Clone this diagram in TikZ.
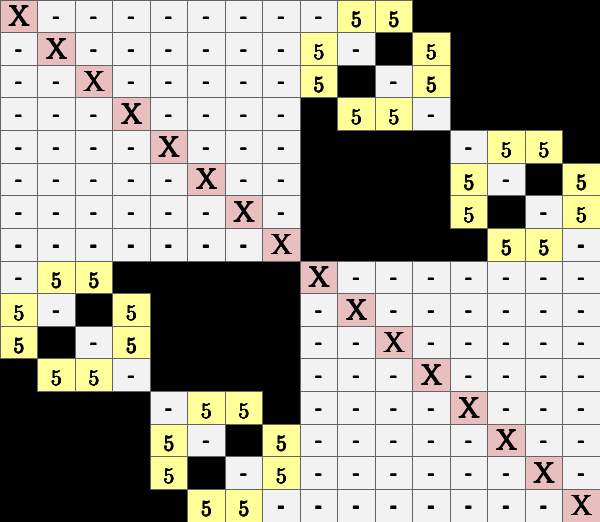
\documentclass[tikz,border=0pt]{standalone}
\usepackage{fontspec}
\definecolor{cellgray}{RGB}{242,242,242}
\definecolor{cellpink}{RGB}{232,190,190}
\definecolor{cellyel}{RGB}{255,255,153}
\definecolor{cellline}{RGB}{100,100,100}
% poor man's bold: 3x3 overprinted copies, #1 horizontal step, #2 vertical step
\newcommand\fbrow[2]{\rlap{#2}\rlap{\hspace{#1}#2}\rlap{\hspace{#1}\hspace{#1}#2}}
\newcommand\fb[3]{\leavevmode
  \fbrow{#1}{#3}%
  \fbrow{#1}{\raisebox{#2}{#3}}%
  \fbrow{#1}{\raisebox{#2}{\raisebox{#2}{#3}}}%
  \hphantom{#3}\hspace{#1}\hspace{#1}}
\newcommand\cellx{\fontsize{29pt}{29pt}\selectfont\fb{0.8pt}{0.35pt}{X}}
\newcommand\cellfive{\fontsize{22pt}{22pt}\selectfont\fb{0.5pt}{0.25pt}{5}}
\newcommand\celldash{\fontsize{22pt}{22pt}\selectfont\fb{0.3pt}{0.55pt}{-}}
\tikzset{
 cell/.style={minimum width=37.5pt, minimum height=32.625pt, inner sep=0pt, outer sep=0pt, draw=cellline, line width=0.8pt, anchor=north west},
 dashcell/.style={cell, fill=cellgray, text height=14.8pt, text depth=0pt},
 xcell/.style={cell, fill=cellpink},
 fivecell/.style={cell, fill=cellyel, text height=21.6pt, text depth=0pt},
}
\begin{document}
\begin{tikzpicture}[x=37.5pt,y=-32.625pt]
\fill[black] (0,0) rectangle (16,16);
\useasboundingbox (0,0) rectangle (16,16);
% diagonal blocks
\foreach \oo in {0,8}{
  \foreach \ii in {0,...,7}{
    \foreach \jj in {0,...,7}{
      \pgfmathtruncatemacro\rr{\oo+\ii}
      \pgfmathtruncatemacro\cc{\oo+\jj}
      \ifnum\ii=\jj
        \node[xcell] (c-\rr-\cc) at (\cc,\rr) {\cellx};
      \else
        \node[dashcell] (c-\rr-\cc) at (\cc,\rr) {\celldash};
      \fi
    }
  }
}
% off-diagonal 4x4 patterns
\foreach \ro/\co in {0/8, 4/12, 8/0, 12/4}{
  \foreach \ii in {0,...,3}{
    \pgfmathtruncatemacro\rr{\ro+\ii}
    \pgfmathtruncatemacro\cc{\co+\ii}
    \node[dashcell] (c-\rr-\cc) at (\cc,\rr) {\celldash};
  }
  \foreach \ii/\jj in {0/1,0/2,1/0,1/3,2/0,2/3,3/1,3/2}{
    \pgfmathtruncatemacro\rr{\ro+\ii}
    \pgfmathtruncatemacro\cc{\co+\jj}
    \node[fivecell] (c-\rr-\cc) at (\cc,\rr) {\cellfive};
  }
}
\end{tikzpicture}
\end{document}
